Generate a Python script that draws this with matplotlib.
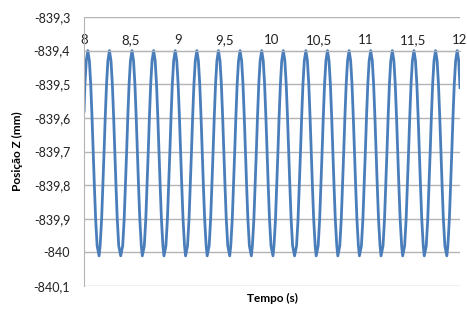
import matplotlib

matplotlib.use("Agg")
import matplotlib.pyplot as plt
from matplotlib.ticker import FuncFormatter

# values
peak_times = [8.04, 8.27, 8.51, 8.74, 8.97, 9.20, 9.43, 9.66, 9.89, 10.12,
              10.36, 10.59, 10.82, 11.05, 11.28, 11.51, 11.74, 11.97]
trough_times = [8.16, 8.39, 8.62, 8.85, 9.08, 9.31, 9.55, 9.78, 10.01, 10.24,
                10.47, 10.70, 10.93, 11.16, 11.39, 11.62, 11.86]
peak_z = -839.40
trough_z = -840.01
start_point = (8.0, -839.58)
end_point = (12.0, -839.51)

flank_offsets = [0.0165, 0.031, 0.045, 0.057, 0.0695, 0.083, 0.099]
flank_z = [-839.43, -839.50, -839.60, -839.70, -839.80, -839.90, -839.98]

y_ticks = [-840.1, -840.0, -839.9, -839.8, -839.7, -839.6, -839.5, -839.4, -839.3]
x_ticks = [8, 8.5, 9, 9.5, 10, 10.5, 11, 11.5, 12]

# build the line: each peak with its two flanks, troughs in between
pts = [start_point, end_point]
for tp in peak_times:
    pts.append((tp, peak_z))
    for off, zz in zip(flank_offsets, flank_z):
        pts.append((tp - off, zz))
        pts.append((tp + off, zz))
for tt in trough_times:
    pts.append((tt, trough_z))
pts = sorted(p for p in pts if start_point[0] <= p[0] <= end_point[0])
t = [p[0] for p in pts]
z = [p[1] for p in pts]

plt.rcParams["font.family"] = ["Lato", "DejaVu Sans"]

fig = plt.figure(figsize=(4.67, 3.09), dpi=100)
ax = fig.add_axes([0.180, 0.074, 0.805, 0.871])

ax.plot(t, z, color="#4a7ebb", linewidth=2.0, solid_joinstyle="round")

ax.set_xlim(8, 12)
ax.set_ylim(-840.1, -839.3)
ax.set_yticks(y_ticks)
ax.set_xticks(x_ticks)


def comma_fmt(v, _pos):
    s = f"{v:.1f}".rstrip("0").rstrip(".")
    return s.replace(".", ",")


ax.yaxis.set_major_formatter(FuncFormatter(comma_fmt))
ax.xaxis.set_major_formatter(FuncFormatter(comma_fmt))

ax.grid(axis="y", color="#b4b4b4", linewidth=1.0)
ax.set_axisbelow(True)

# x axis crosses at -839,4 with labels above it
ax.xaxis.set_ticks_position("top")
ax.spines["top"].set_position(("data", -839.4))
ax.spines["top"].set_color("#b4b4b4")
ax.spines["right"].set_visible(False)
ax.spines["bottom"].set_visible(False)
ax.spines["left"].set_color("#b4b4b4")
ax.tick_params(axis="x", length=0, pad=3, labelsize=9.5, colors="#222222")
ax.tick_params(axis="y", length=0, pad=10, labelsize=9, colors="#222222")

ax.set_xlabel("Tempo (s)", fontsize=8.5, fontweight="bold")
ax.xaxis.set_label_position("bottom")
ax.xaxis.set_label_coords(0.5, -0.025)
ax.set_ylabel("Posição Z (mm)", fontsize=8.5, fontweight="bold", labelpad=8)

fig.savefig("out.png", dpi=100)
